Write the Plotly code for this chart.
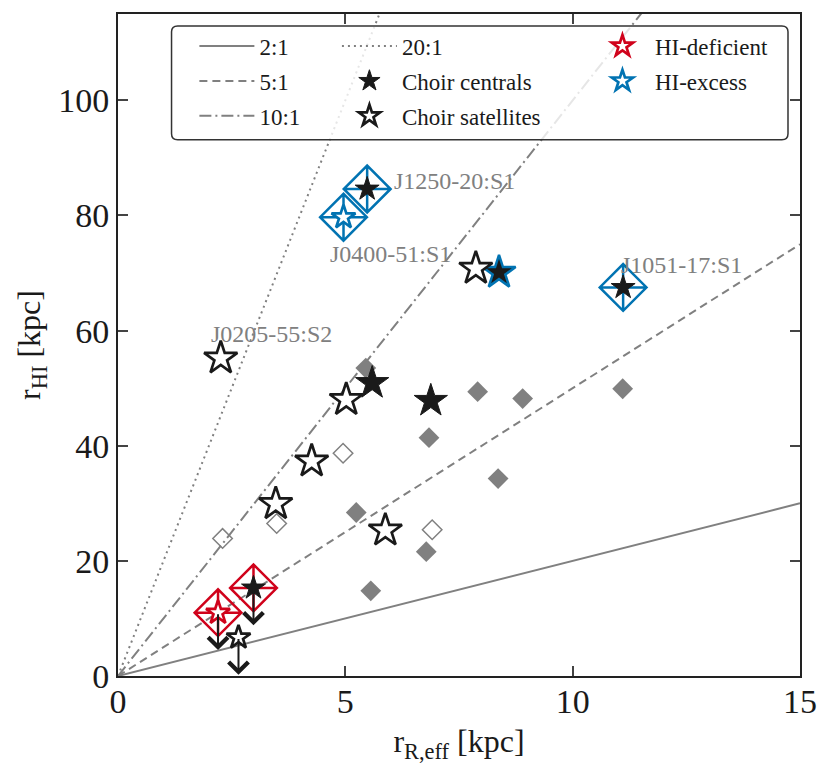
import plotly.graph_objects as go

# Choir galaxies: effective radius (kpc) vs HI radius (kpc)
NAMES = ["J1250-20:S1", "J0400-51:S1", "J1051-17:S1", "", "", "J0205-55:S2", "", "",
         "", "", "", "", "", "", ""]
R_EFF = [5.48, 4.96, 11.11, 8.38, 7.87, 2.26, 5.59, 6.88, 5.02, 4.26, 3.47, 5.88, 2.98, 2.20, 2.65]
R_HI = [84.6, 79.7, 67.5, 70.1, 70.8, 55.2, 50.9, 47.8, 48.0, 37.3, 29.9, 25.3, 15.3, 11.0, 6.7]
KIND = ["central", "satellite", "central", "central", "satellite", "satellite", "central", "central",
        "satellite", "satellite", "satellite", "satellite", "central", "satellite", "satellite"]
HI_STATE = ["normal", "excess", "normal", "excess", "normal", "normal", "normal", "normal",
            "normal", "normal", "normal", "normal", "normal", "deficient", "normal"]
HIGHLIGHT = ["excess", "excess", "excess", "", "", "", "", "",
             "", "", "", "", "deficient", "deficient", ""]
UPLIM = [False, False, False, False, False, False, False, False,
         False, False, False, False, True, True, True]

# comparison sample
CMP_FILLED_X = [5.45, 7.91, 8.90, 11.10, 6.84, 8.36, 5.24, 6.78, 5.56]
CMP_FILLED_Y = [53.5, 49.4, 48.2, 49.9, 41.4, 34.3, 28.4, 21.6, 14.8]
CMP_OPEN_X = [2.30, 3.49, 4.95, 6.91]
CMP_OPEN_Y = [23.9, 26.5, 38.7, 25.4]

RATIOS = [2, 5, 10, 20]
RATIO_DASH = {2: "solid", 5: "8px,5px", 10: "12px,4px,2px,4px", 20: "2px,4px"}

X_MAX = 15
Y_MAX = 115
LIMIT_LEN = 6.5

RED = "#d0021b"
BLUE = "#0173b2"
GREY = "#808080"
INK = "#1a1a1a"
FONT = "Liberation Serif"

EDGE = {"normal": INK, "excess": BLUE, "deficient": RED}

fig = go.Figure()

# constant ratio lines
for r in RATIOS:
    fig.add_trace(go.Scatter(
        x=[0, X_MAX], y=[0, r * X_MAX], mode="lines", name="%d:1" % r,
        line=dict(color=GREY, width=2, dash=RATIO_DASH[r]),
        legend="legend" if r in (2, 5, 10) else "legend2", legendgroup="%d:1" % r,
        hoverinfo="skip"))

fig.add_trace(go.Scatter(
    x=CMP_FILLED_X, y=CMP_FILLED_Y, mode="markers", showlegend=False,
    marker=dict(symbol="diamond", size=16, color=GREY, opacity=1, line=dict(width=0))))
fig.add_trace(go.Scatter(
    x=CMP_OPEN_X, y=CMP_OPEN_Y, mode="markers", showlegend=False,
    marker=dict(symbol="diamond-open", size=15, color=GREY, opacity=1, line=dict(width=1.5))))

# highlight diamonds
for state, col in [("excess", BLUE), ("deficient", RED)]:
    idx = [i for i in range(len(R_EFF)) if HIGHLIGHT[i] == state]
    fig.add_trace(go.Scatter(
        x=[R_EFF[i] for i in idx], y=[R_HI[i] for i in idx], mode="markers",
        showlegend=False, cliponaxis=False,
        marker=dict(symbol="diamond-cross-open", size=36, color=col, opacity=1,
                    line=dict(width=2.5))))

# stars
groups = [
    ("central", "normal", "Choir centrals", "legend2"),
    ("central", "excess", None, None),
    ("satellite", "normal", "Choir satellites", "legend2"),
    ("satellite", "deficient", "HI-deficient", "legend3"),
    ("satellite", "excess", "HI-excess", "legend3"),
]
for kind, state, name, leg in groups:
    idx = [i for i in range(len(R_EFF)) if KIND[i] == kind and HI_STATE[i] == state]
    sizes = [18 if (HIGHLIGHT[i] or UPLIM[i]) else 25 for i in idx]
    if kind == "central":
        mk = dict(symbol="star", size=sizes, color=INK, opacity=1,
                  line=dict(color=EDGE[state], width=1 if state == "normal" else 2.5))
    else:
        mk = dict(symbol="star", size=sizes, color="white", opacity=1,
                  line=dict(color=EDGE[state], width=2.7))
    fig.add_trace(go.Scatter(
        x=[R_EFF[i] for i in idx], y=[R_HI[i] for i in idx], mode="markers",
        name=name, showlegend=name is not None, legend=leg, legendgroup=name,
        marker=mk, cliponaxis=False))

# upper limits
for i in range(len(R_EFF)):
    if UPLIM[i]:
        fig.add_annotation(x=R_EFF[i], y=R_HI[i] - LIMIT_LEN, ax=R_EFF[i], ay=R_HI[i],
                           xref="x", yref="y", axref="x", ayref="y", text="",
                           showarrow=True, arrowhead=4, arrowsize=1.9, arrowwidth=2,
                           arrowcolor=INK)

# labels
LABEL_SHIFT = {"J1250-20:S1": (25, 8), "J0400-51:S1": (-16, -37),
               "J1051-17:S1": (-4, 22), "J0205-55:S2": (-12, 24)}
for i, n in enumerate(NAMES):
    if n:
        dx, dy = LABEL_SHIFT[n]
        fig.add_annotation(x=R_EFF[i], y=R_HI[i], text=n, showarrow=False,
                           xanchor="left", yanchor="middle", xshift=dx, yshift=dy,
                           font=dict(family=FONT, size=24, color=GREY))

# legend frame
x0, x1, y0, y1 = 0.0785, 0.9824, 0.810, 0.982
rx, ry = 0.009, 0.009
path = ("M %f,%f L %f,%f Q %f,%f %f,%f L %f,%f Q %f,%f %f,%f L %f,%f Q %f,%f %f,%f "
        "L %f,%f Q %f,%f %f,%f Z") % (
    x0 + rx, y0, x1 - rx, y0, x1, y0, x1, y0 + ry, x1, y1 - ry, x1, y1, x1 - rx, y1,
    x0 + rx, y1, x0, y1, x0, y1 - ry, x0, y0 + ry, x0, y0, x0 + rx, y0)
fig.add_shape(type="path", path=path, xref="paper", yref="paper",
              fillcolor="rgba(255,255,255,0.8)", line=dict(color="#333333", width=1.5),
              layer="above")

leg_common = dict(bgcolor="rgba(0,0,0,0)", borderwidth=0, yanchor="top", xanchor="left",
                  font=dict(family=FONT, size=23, color=INK), tracegroupgap=2,
                  itemwidth=55)
# the page body adds an 8px offset, so margins are shifted to compensate
fig.update_layout(
    width=831, height=775,
    margin=dict(l=110, r=39, t=4, b=107),
    paper_bgcolor="white", plot_bgcolor="white",
    font=dict(family=FONT, color=INK),
    legend=dict(x=0.112, y=0.984, **leg_common),
    legend2=dict(x=0.321, y=0.984, **leg_common),
    legend3=dict(x=0.692, y=0.984, **leg_common),
    xaxis=dict(range=[0, X_MAX], tickvals=[0, 5, 10, 15], ticks="inside", ticklen=10,
               tickwidth=1.5, mirror="ticks", showline=True, linecolor="#222222",
               linewidth=2, showgrid=False, zeroline=False,
               ticklabelstandoff=-6,
               tickfont=dict(family=FONT, size=34),
               title=dict(text="r<sub>R,eff</sub> [kpc]", font=dict(family=FONT, size=32),
                          standoff=11)),
    yaxis=dict(range=[0, Y_MAX], tickvals=[0, 20, 40, 60, 80, 100], ticks="inside",
               ticklen=10, tickwidth=1.5, mirror="ticks", showline=True,
               linecolor="#222222", linewidth=2, showgrid=False, zeroline=False,
               tickfont=dict(family=FONT, size=34),
               title=dict(text="r<sub>HI</sub> [kpc]", font=dict(family=FONT, size=32),
                          standoff=8)),
)

fig.write_html("out.html")
